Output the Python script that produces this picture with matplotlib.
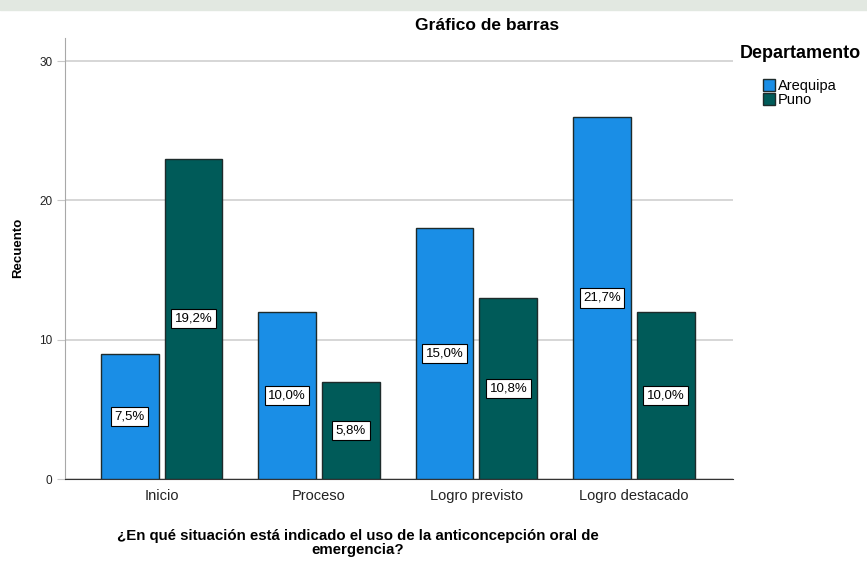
import matplotlib.pyplot as plt
import numpy as np
from matplotlib.patches import Rectangle

plt.rcParams['font.family'] = ['Liberation Sans', 'DejaVu Sans']

categories = ['Inicio', 'Proceso', 'Logro previsto', 'Logro destacado']
series_names = ['Arequipa', 'Puno']
arequipa = [9, 12, 18, 26]
puno = [23, 7, 13, 12]
colors = ['#1a8ee6', '#005b59']

total = sum(arequipa) + sum(puno)

fig = plt.figure(figsize=(8.67, 5.61), dpi=100)
ax = fig.add_axes([0.075, 0.146, 0.7704, 0.786])

# faint watermark band at the top
fig.patches.append(Rectangle((0, 0.983), 1, 0.017, transform=fig.transFigure,
                             color='#e2e8e1', zorder=0))

x = np.arange(len(categories))
w = 0.368
off = 0.203
handles = []
for i, (vals, col) in enumerate(zip([arequipa, puno], colors)):
    pos = x + (off if i else -off)
    b = ax.bar(pos, vals, w, color=col, edgecolor='#1e2b2b', linewidth=1.0, zorder=3,
               label=series_names[i])
    handles.append(b)
    for p, v in zip(pos, vals):
        pct = '{:.1f}%'.format(100 * v / total).replace('.', ',')
        ax.text(p, v / 2, pct, ha='center', va='center', fontsize=9.5, zorder=4,
                bbox=dict(boxstyle='square,pad=0.27', fc='white', ec='black', lw=0.8))

ax.set_xlim(-0.613, 3.629)
ax.set_ylim(0, 31.65)
ax.set_yticks([0, 10, 20, 30])
ax.yaxis.grid(True, color='#d0d0d0', linewidth=1.2, zorder=0)
ax.set_xticks(x)
ax.set_xticklabels(categories, fontsize=10.5, color='#222222')
ax.tick_params(axis='x', length=0, pad=7)
ax.tick_params(axis='y', length=6, color='#c8c8c8', labelsize=8.5, pad=3, labelcolor='#222222')
for s in ['top', 'right']:
    ax.spines[s].set_visible(False)
ax.spines['left'].set_color('#a8a8a8')
ax.spines['bottom'].set_color('#333333')

fig.text(0.562, 0.955, 'Gráfico de barras', ha='center', va='center',
         fontsize=12.5, fontweight='bold')
fig.text(0.413, 0.032, '¿En qué situación está indicado el uso de la anticoncepción oral de\nemergencia?',
         ha='center', va='center', fontsize=10.8, fontweight='bold', linespacing=0.95)
fig.text(0.021, 0.558, 'Recuento', rotation=90, ha='center', va='center',
         fontsize=9.5, fontweight='bold')

# legend
fig.text(0.8535, 0.9055, 'Departamento', ha='left', va='center',
         fontsize=13, fontweight='bold')
fig.legend(handles=handles, labels=series_names, loc='upper left',
           bbox_to_anchor=(0.880, 0.860), frameon=False, fontsize=10.5,
           handlelength=0.8, handleheight=0.9, handletextpad=0.2,
           labelspacing=0.05, borderaxespad=0, borderpad=0)

fig.savefig('out.png', dpi=100)
